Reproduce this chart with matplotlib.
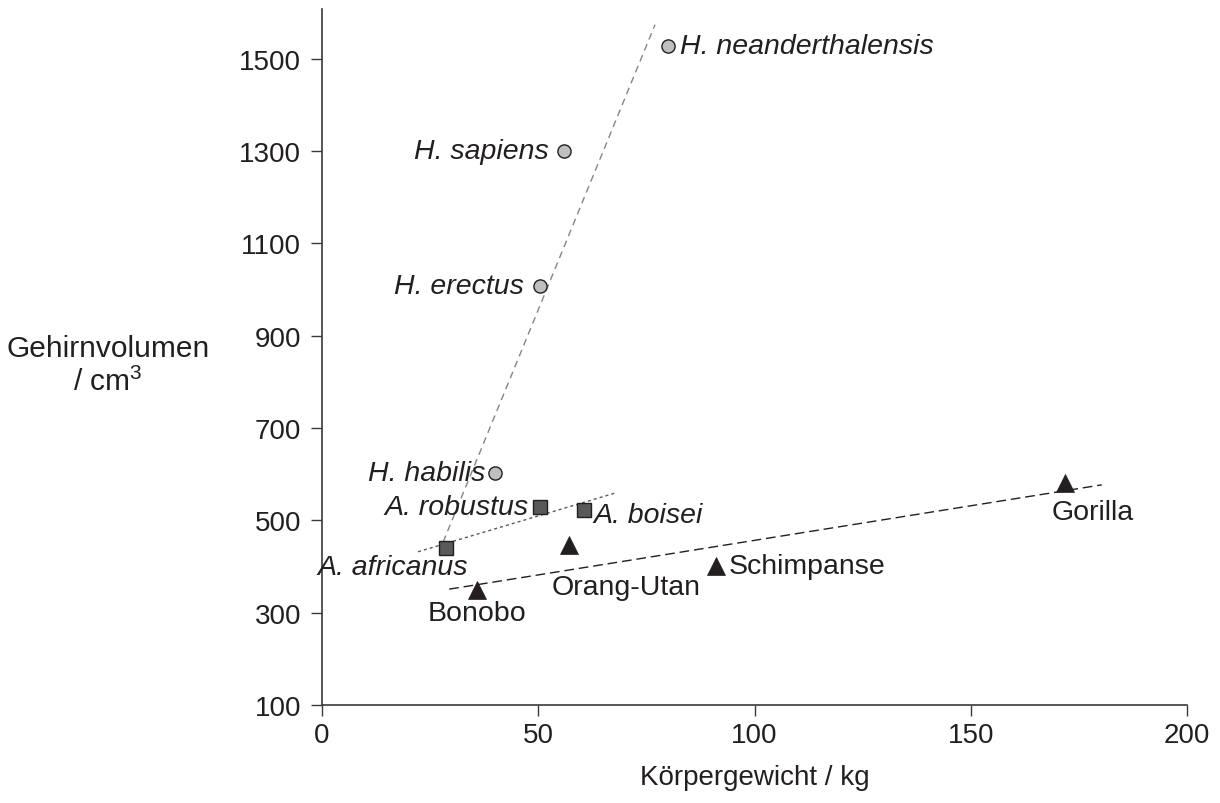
#Brain volume vs body weight of hominids and great apes
import matplotlib
matplotlib.use('Agg')
import matplotlib.pyplot as plt

plt.rcParams['font.family'] = ['Liberation Sans', 'DejaVu Sans']
plt.rcParams['mathtext.fontset'] = 'custom'
plt.rcParams['mathtext.rm'] = 'Liberation Sans'

#Homo species (circles)
homo_names = ['H. neanderthalensis', 'H. sapiens', 'H. erectus', 'H. habilis']
homo_kg = [80, 56, 50.4, 40]
homo_cm3 = [1528, 1300, 1008, 603]

#Australopithecus species (squares)
austro_names = ['A. robustus', 'A. boisei', 'A. africanus']
austro_kg = [50.4, 60.6, 28.7]
austro_cm3 = [528, 522, 441]

#Great apes (triangles)
ape_names = ['Gorilla', 'Schimpanse', 'Orang-Utan', 'Bonobo']
ape_kg = [171.8, 91, 57.1, 35.8]
ape_cm3 = [581, 401, 446, 349]

#Trend lines (end points)
homo_line_x = [28, 77]
homo_line_y = [453, 1574]
austro_line_x = [22.2, 67.7]
austro_line_y = [432, 559]
ape_line_x = [29.4, 180.3]
ape_line_y = [351, 577]

x_ticks = [0, 50, 100, 150, 200]
y_ticks = [100, 300, 500, 700, 900, 1100, 1300, 1500]

dark = '#231f20'

#Label offsets in pixels (dx, dy, ha)
homo_off = [(12, 0, 'left'), (-15, 0, 'right'), (-16, 0, 'right'), (-10, 0, 'right')]
austro_off = [(-11, 0, 'right'), (9, -5, 'left'), (22, -19, 'right')]
ape_off = [(-13, -29, 'left'), (13, 0, 'left'), (-17, -42, 'left'), (0, -23, 'center')]

fig = plt.figure(figsize=(12.2, 8.04), dpi=100)
ax = fig.add_axes([322/1220, 98/804, (1187-322)/1220, (706-10)/804])

ax.plot(homo_line_x, homo_line_y, color='#858585', lw=1, dashes=(5, 3.5))
ax.plot(austro_line_x, austro_line_y, color='#58595b', lw=1, dashes=(2.2, 2.2))
ax.plot(ape_line_x, ape_line_y, color=dark, lw=1, dashes=(7, 3.5))

ax.plot(homo_kg, homo_cm3, 'o', ms=9.5, mfc='#c0c0c0', mec=dark, mew=1, ls='none')
ax.plot(austro_kg, austro_cm3, 's', ms=10, mfc='#58595b', mec=dark, mew=1, ls='none')
ax.plot(ape_kg, ape_cm3, '^', ms=12.5, mfc=dark, mec=dark, mew=0.5, ls='none')

for names, xs, ys, offs, style in [(homo_names, homo_kg, homo_cm3, homo_off, 'italic'),
                                   (austro_names, austro_kg, austro_cm3, austro_off, 'italic'),
                                   (ape_names, ape_kg, ape_cm3, ape_off, 'normal')]:
    for n, x, y, (dx, dy, ha) in zip(names, xs, ys, offs):
        ax.annotate(n, (x, y), xytext=(dx, dy), textcoords='offset pixels',
                    ha=ha, va='center', fontsize=20.5, style=style, color=dark)

ax.set_xlim(0, 200)
ax.set_ylim(100, 1608)
ax.set_xticks(x_ticks)
ax.set_yticks(y_ticks)
for s in ['top', 'right']:
    ax.spines[s].set_visible(False)
for s in ['left', 'bottom']:
    ax.spines[s].set_color('#3a3a3a')
    ax.spines[s].set_linewidth(1.2)
ax.tick_params(axis='both', direction='out', length=8, width=1, color='#3a3a3a',
               labelsize=20, labelcolor=dark)
ax.tick_params(axis='x', pad=4)
ax.tick_params(axis='y', pad=7)

ax.set_xlabel('Körpergewicht / kg', fontsize=20, color=dark, labelpad=12)
fig.text(108/1220, 1 - 366/804, 'Gehirnvolumen\n/ cm$^3$', ha='center', va='center',
         fontsize=21.5, color=dark, linespacing=1.2)

fig.savefig('out.png', dpi=100)
